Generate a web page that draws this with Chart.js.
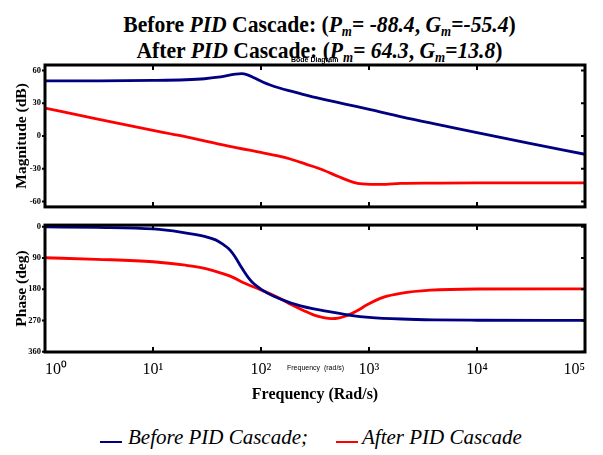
<!DOCTYPE html>
<html lang="en">
<head>
  <meta charset="UTF-8">
  <title>Bode Diagram</title>
  <script src="https://cdn.jsdelivr.net/npm/chart.js"></script>
  <style>
    body {
      margin: 0;
      background: #fff;
    }
    #wrap {
      position: relative;
      width: 603px;
      height: 455px;
      overflow: hidden;
      font-family: 'Liberation Serif', 'Times New Roman', serif;
      color: #000;
    }
    canvas {
      position: absolute;
      left: 0;
    }
    .title {
      position: absolute;
      left: 18px;
      width: 603px;
      text-align: center;
      font-weight: bold;
      font-size: 24px;
      line-height: 26px;
      white-space: nowrap;
      transform: scaleX(0.9);
    }
    .title sub {
      font-size: 0.6em;
      vertical-align: -0.3em;
      line-height: 0;
    }
    .small {
      position: absolute;
      font-family: 'Liberation Sans', Arial, sans-serif;
      font-size: 7px;
      line-height: 8px;
      white-space: pre;
    }
    .leg-line {
      position: absolute;
      width: 22px;
      height: 2.5px;
    }
    .leg-text {
      position: absolute;
      font-style: italic;
      font-size: 21px;
      line-height: 24px;
      white-space: nowrap;
    }
  </style>
</head>
<body>
  <div id="wrap">
    <div class="title" style="top: 11px;">
      <div>Before <i>PID</i> Cascade: (<i>P<sub>m</sub></i>= <i>-88.4</i>, <i>G<sub>m</sub></i>=<i>-55.4</i>)</div>
      <div>After <i>PID</i> Cascade: (<i>P<sub>m</sub></i>= <i>64.3</i>, <i>G<sub>m</sub></i>=<i>13.8</i>)</div>
    </div>
    <canvas id="magChart" width="603" height="216" style="top: 0;"></canvas>
    <canvas id="phaseChart" width="603" height="200" style="top: 216px;"></canvas>
    <div class="small" style="left: 291px; top: 56px; font-weight: bold;">Bode Diagram</div>
    <div class="small" style="left: 287px; top: 364px;">Frequency  (rad/s)</div>
    <div class="leg-line" style="left: 100px; top: 440.5px; background: #000080;"></div>
    <div class="leg-text" style="left: 128px; top: 425px;">Before PID Cascade;</div>
    <div class="leg-line" style="left: 336px; top: 440.5px; background: #ff0000;"></div>
    <div class="leg-text" style="left: 362px; top: 425px;">After PID Cascade</div>
  </div>

  <script>
    // frequencies (rad/s) and values
    const decades = [1, 10, 100, 1000, 10000, 100000];
    const magTicks = [-60, -30, 0, 30, 60];
    const phaseTicks = [0, 90, 180, 270, 360];

    const magBeforeW = [1, 3, 10, 20, 30, 40, 50, 58, 66, 75, 85, 95, 105, 120, 151, 190, 232, 300, 409, 600, 1030, 2000, 5000, 10000, 30000, 100000];
    const magBefore  = [50.4, 50.5, 50.9, 51.5, 52.4, 53.8, 55.5, 56.6, 57.1, 56.0, 53.6, 51.2, 49.2, 46.9, 43.7, 41.0, 38.7, 35.8, 32.9, 29.2, 24.1, 17.5, 9.3, 3.1, -6.5, -16.8];

    const magAfterW = [1, 3, 10, 18, 50, 102, 140, 187, 260, 380, 520, 720, 870, 1030, 1300, 1960, 4000, 10000, 100000];
    const magAfter  = [25.5, 15.6, 5.0, 0.2, -9.3, -15.3, -18.0, -21.1, -25.8, -31.4, -37.2, -42.5, -44.0, -44.4, -44.4, -43.5, -43.2, -43.0, -43.0];

    const phBeforeW = [1, 3, 10, 18, 30, 38, 45, 50, 55, 60, 65, 70, 76, 83, 92, 102, 130, 190, 300, 400, 700, 1000, 2000, 4000, 10000, 100000];
    const phBefore  = [0.5, 2, 6.5, 15.5, 28, 38, 52, 63, 78, 96, 114, 130, 146, 160, 172, 182, 200, 220, 236, 243, 256, 261, 266, 268.5, 269.5, 270];

    const phAfterW = [1, 3, 10, 20, 30, 42, 55, 68, 100, 150, 190, 250, 306, 380, 450, 520, 630, 800, 960, 1370, 1960, 3700, 10000, 100000];
    const phAfter  = [89.5, 94, 101, 111, 120, 133, 146, 161, 182, 207, 224, 242, 254, 262, 265, 263.5, 256, 240, 225, 203, 192, 183, 179.5, 179];

    const NAVY = '#000080';
    const RED = '#ff0000';
    const SERIF = "'Liberation Serif', 'Times New Roman', serif";
    const SUP = ['\u2070', '\u00b9', '\u00b2', '\u00b3', '\u2074', '\u2075'];

    function pairs(xs, ys) {
      return xs.map((x, i) => ({ x: x, y: ys[i] }));
    }

    function series(label, xs, ys, color) {
      return {
        label: label,
        data: pairs(xs, ys),
        borderColor: color,
        backgroundColor: color,
        borderWidth: 2.8,
        pointRadius: 0,
        fill: false,
        cubicInterpolationMode: 'monotone'
      };
    }

    // box round the plot, ticks pointing in
    const frame = {
      id: 'frame',
      afterDatasetsDraw(chart) {
        const { ctx, chartArea: a, scales } = chart;
        ctx.save();
        ctx.strokeStyle = '#000';
        ctx.lineWidth = 2;
        ctx.beginPath();
        decades.forEach(v => {
          const px = scales.x.getPixelForValue(v);
          ctx.moveTo(px, a.top); ctx.lineTo(px, a.top + 5);
          ctx.moveTo(px, a.bottom); ctx.lineTo(px, a.bottom - 5);
        });
        scales.y.ticks.forEach(t => {
          const py = scales.y.getPixelForValue(t.value);
          ctx.moveTo(a.left - 3, py); ctx.lineTo(a.left, py);
          ctx.moveTo(a.right, py); ctx.lineTo(a.right - 4, py);
        });
        ctx.stroke();
        ctx.lineWidth = 3;
        ctx.strokeRect(a.left, a.top, a.right - a.left, a.bottom - a.top);
        ctx.restore();
      }
    };

    function yAxis(min, max, ticks, title, reverse) {
      return {
        min: min,
        max: max,
        reverse: reverse,
        afterBuildTicks: s => { s.ticks = ticks.map(v => ({ value: v })); },
        afterFit: s => { s.width = 45; },
        grid: { display: false, drawTicks: false },
        border: { display: false },
        ticks: { padding: 4, color: '#000', font: { family: SERIF, size: 8.5, weight: 'bold' } },
        title: {
          display: true,
          text: title,
          color: '#000',
          font: { family: SERIF, size: 15.5, weight: 'bold', lineHeight: 1.2 },
          padding: { top: 12.4, bottom: 0 }
        }
      };
    }

    const common = {
      responsive: false,
      animation: false,
      devicePixelRatio: 1,
      plugins: { legend: { display: false }, tooltip: { enabled: false } }
    };

    new Chart(document.getElementById('magChart'), {
      type: 'line',
      data: {
        datasets: [
          series('Before PID Cascade;', magBeforeW, magBefore, NAVY),
          series('After PID Cascade', magAfterW, magAfter, RED)
        ]
      },
      options: Object.assign({}, common, {
        layout: { padding: { top: 65, right: 18, bottom: 3, left: 0 } },
        scales: {
          x: {
            type: 'logarithmic', min: 1, max: 100000, display: false,
            afterBuildTicks: s => { s.ticks = decades.map(v => ({ value: v })); }
          },
          y: yAxis(-65, 65, magTicks, 'Magnitude (dB)', false)
        }
      }),
      plugins: [frame]
    });

    new Chart(document.getElementById('phaseChart'), {
      type: 'line',
      data: {
        datasets: [
          series('Before PID Cascade;', phBeforeW, phBefore, NAVY),
          series('After PID Cascade', phAfterW, phAfter, RED)
        ]
      },
      options: Object.assign({}, common, {
        layout: { padding: { top: 4, right: 18, bottom: 0, left: 0 } },
        scales: {
          x: {
            type: 'logarithmic', min: 1, max: 100000,
            afterBuildTicks: s => { s.ticks = decades.map(v => ({ value: v })); },
            afterFit: s => { s.height = 64; },
            grid: { display: false, drawTicks: false },
            border: { display: false },
            ticks: {
              padding: 8,
              align: 'inner',
              autoSkip: false,
              maxRotation: 0,
              color: '#000',
              font: { family: SERIF, size: 16 },
              callback: v => '10' + SUP[Math.round(Math.log10(v))]
            },
            title: {
              display: true,
              text: 'Frequency (Rad/s)',
              color: '#000',
              font: { family: SERIF, size: 16, weight: 'bold', lineHeight: 1.2 },
              padding: { top: 0, bottom: 12 }
            }
          },
          y: yAxis(-4.5, 361, phaseTicks, 'Phase (deg)', true)
        }
      }),
      plugins: [frame]
    });
  </script>
</body>
</html>
